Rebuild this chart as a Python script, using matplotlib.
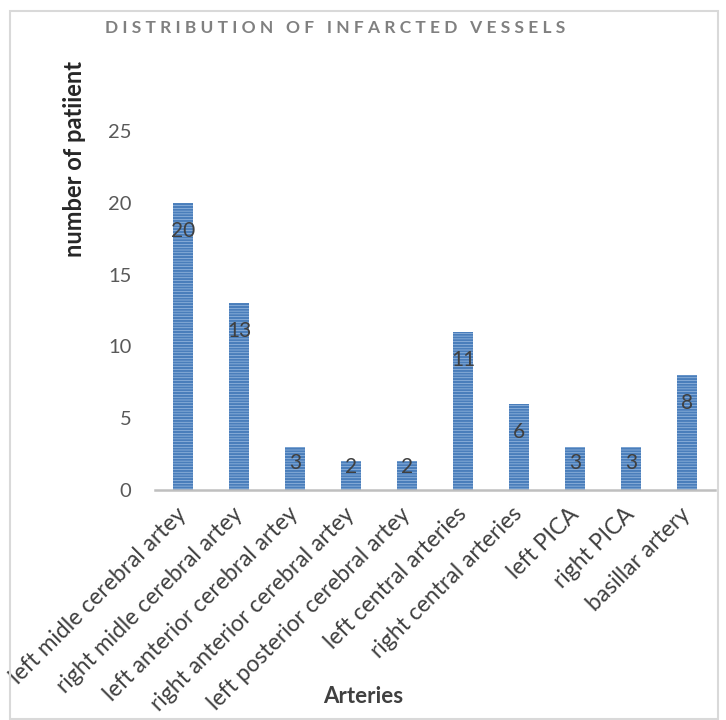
import matplotlib.pyplot as plt
from matplotlib.patches import Rectangle

# data
arteries = ['left midle cerebral artey', 'right midle cerebral artey',
            'left anterior cerebral artey', 'right anterior cerebral artey',
            'left posterior cerebral artey', 'left central arteries',
            'right central arteries', 'left PICA', 'right PICA', 'basillar artery']
patients = [20, 13, 3, 2, 2, 11, 6, 3, 3, 8]
yticks = [0, 5, 10, 15, 20, 25]

plt.rcParams['font.family'] = ['Lato', 'DejaVu Sans']
plt.rcParams['hatch.linewidth'] = 1.6
plt.rcParams['hatch.color'] = '#4a7ebb'

fig = plt.figure(figsize=(7.26, 7.2), dpi=100)
ax = fig.add_axes([0.2135, 0.3194, 0.7715, 0.4986])

x = range(len(arteries))
ax.bar(x, patients, width=0.37, color='#b0cbeb', edgecolor='#4a7ebb',
       linewidth=0, hatch='------')

# labels sit inside the bar end, pushed up a little on the short bars
for i, v in enumerate(patients):
    yc = max(v - 1.95, 0.28 * v + 1.04)
    ax.text(i, yc, str(v), ha='center', va='center', fontsize=15, color='#404040')

ax.set_xlim(-0.5, 9.5)
ax.set_ylim(0, 25)
ax.set_yticks(yticks)
ax.set_xticks(list(x))
ax.set_xticklabels(arteries, rotation=45, ha='right', va='center',
                   rotation_mode='anchor', fontsize=16.5, color='#404040')
ax.tick_params(axis='y', length=0, labelsize=14.5, labelcolor='#595959', pad=17)
ax.tick_params(axis='x', length=0, pad=15)
for s in ['top', 'right', 'left']:
    ax.spines[s].set_visible(False)
ax.spines['bottom'].set_color('#bfbfbf')
ax.spines['bottom'].set_linewidth(1.8)

fig.text(0.103, 0.779, 'number of patiient', rotation=90, ha='center', va='center',
         fontsize=17, fontweight='bold', color='#262626')
fig.text(0.5, 0.032, 'Arteries', ha='center', va='center',
         fontsize=16, fontweight='bold', color='#404040')
fig.text(0.461, 0.961, '   '.join(' '.join(w) for w in 'DISTRIBUTION OF INFARCTED VESSELS'.split()),
         ha='center', va='center', fontsize=12.5, fontweight='bold', color='#808080')

fig.patches.append(Rectangle((0.0138, 0.0014), 0.975, 0.984, transform=fig.transFigure,
                             fill=False, edgecolor='#d9d9d9', linewidth=1.5))

fig.savefig('out.png', dpi=100)
